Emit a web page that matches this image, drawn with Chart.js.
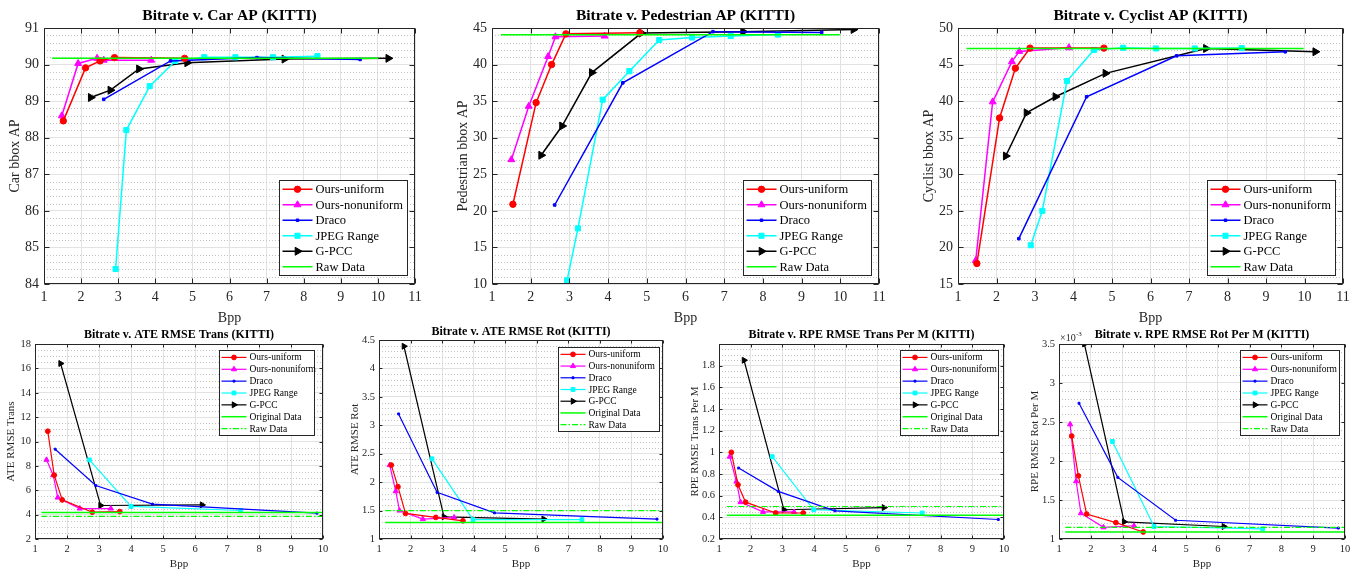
<!DOCTYPE html>
<html>
<head>
<meta charset="utf-8">
<script src="https://cdn.jsdelivr.net/npm/chart.js@4.4.1/dist/chart.umd.min.js"></script>
<style>
body { margin: 0; background: #fff; width: 1357px; height: 569px; overflow: hidden; position: relative; }
canvas { position: absolute; }
</style>
</head>
<body>
<script>
const seriesNames = ['Ours-uniform', 'Ours-nonuniform', 'Draco', 'JPEG Range', 'G-PCC'];

// Car AP
const carUniform = [[1.52, 88.46], [2.12, 89.91], [2.51, 90.10], [2.90, 90.19], [4.79, 90.17]];
const carNonuniform = [[1.48, 88.60], [1.92, 90.03], [2.43, 90.17], [2.61, 90.12], [3.89, 90.12]];
const carDraco = [[2.61, 89.05], [4.41, 90.10], [6.74, 90.19], [9.52, 90.14]];
const carJpeg = [[2.93, 84.41], [3.22, 88.21], [3.85, 89.41], [4.54, 90.10], [5.32, 90.20], [6.16, 90.20], [7.17, 90.20], [8.37, 90.23]];
const carGpcc = [[2.26, 89.10], [2.79, 89.30], [3.56, 89.88], [4.86, 90.05], [7.48, 90.15], [10.28, 90.17]];
const carRaw = [[1.22, 90.17], [10.01, 90.17]];

// Pedestrian AP
const pedUniform = [[1.54, 20.9], [2.14, 34.8], [2.54, 40.0], [2.91, 44.2], [4.82, 44.35]];
const pedNonuniform = [[1.50, 27.0], [1.95, 34.3], [2.45, 41.1], [2.64, 43.8], [3.91, 43.9]];
const pedDraco = [[2.62, 20.8], [4.38, 37.5], [6.71, 44.5], [9.52, 44.4]];
const pedJpeg = [[2.94, 10.5], [3.22, 17.6], [3.86, 35.2], [4.55, 39.1], [5.32, 43.35], [6.17, 43.7], [7.17, 43.9], [8.39, 44.1]];
const pedGpcc = [[2.27, 27.6], [2.81, 31.6], [3.58, 38.9], [4.86, 44.3], [7.49, 44.5], [10.34, 44.8]];
const pedRaw = [[1.23, 44.08], [9.99, 44.08]];

// Cyclist AP
const cycUniform = [[1.49, 17.8], [2.08, 37.7], [2.49, 44.5], [2.87, 47.25], [4.79, 47.25]];
const cycNonuniform = [[1.46, 18.2], [1.90, 39.9], [2.40, 45.4], [2.59, 46.8], [3.88, 47.3]];
const cycDraco = [[2.58, 21.2], [4.34, 40.6], [6.68, 46.2], [9.50, 46.75]];
const cycJpeg = [[2.89, 20.3], [3.19, 25.0], [3.83, 42.75], [4.53, 47.0], [5.29, 47.3], [6.14, 47.2], [7.15, 47.2], [8.37, 47.25]];
const cycGpcc = [[2.24, 32.5], [2.78, 38.4], [3.53, 40.6], [4.83, 43.8], [7.44, 47.2], [10.28, 46.75]];
const cycRaw = [[1.22, 47.2], [9.98, 47.2]];

// ATE RMSE Trans
const ateTUniform = [[1.40, 10.84], [1.60, 7.24], [1.85, 5.21], [2.79, 4.2], [3.65, 4.25]];
const ateTNonuniform = [[1.36, 8.5], [1.57, 7.24], [1.71, 5.4], [2.40, 4.5], [3.37, 4.5]];
const ateTDraco = [[1.63, 9.37], [2.90, 6.39], [4.67, 4.86], [9.81, 4.12]];
const ateTJpeg = [[2.70, 8.49], [4.00, 4.67], [7.43, 4.34]];
const ateTGpcc = [[1.80, 16.4], [3.05, 4.75], [6.22, 4.8]];
const ateTOriginal = [[1.2, 4.17], [10, 4.17]];
const ateTRaw = [[1.2, 3.85], [10, 3.85]];

// ATE RMSE Rot
const ateRUniform = [[1.39, 2.30], [1.60, 1.92], [1.84, 1.45], [2.80, 1.38], [3.66, 1.32]];
const ateRNonuniform = [[1.34, 2.30], [1.53, 1.84], [1.65, 1.50], [2.39, 1.35], [3.38, 1.38]];
const ateRDraco = [[1.62, 3.20], [2.84, 1.82], [4.66, 1.46], [9.81, 1.35]];
const ateRJpeg = [[2.68, 2.41], [3.98, 1.34], [7.43, 1.34]];
const ateRGpcc = [[1.79, 4.39], [3.06, 1.39], [6.22, 1.35]];
const ateROriginal = [[1.2, 1.29], [10, 1.29]];
const ateRRaw = [[1.2, 1.5], [10, 1.5]];

// RPE RMSE Trans Per M
const rpeTUniform = [[1.39, 1.0], [1.60, 0.70], [1.84, 0.54], [2.79, 0.44], [3.66, 0.44]];
const rpeTNonuniform = [[1.34, 0.96], [1.55, 0.73], [1.68, 0.54], [2.39, 0.45], [3.37, 0.45]];
const rpeTDraco = [[1.62, 0.855], [2.87, 0.64], [4.66, 0.46], [9.82, 0.38]];
const rpeTJpeg = [[2.68, 0.96], [3.99, 0.47], [7.42, 0.44]];
const rpeTGpcc = [[1.79, 1.85], [3.05, 0.47], [6.21, 0.49]];
const rpeTOriginal = [[1.25, 0.42], [10, 0.42]];
const rpeTRaw = [[1.25, 0.50], [10, 0.50]];

// RPE RMSE Rot Per M (values x 10^-3)
const rpeRUniform = [[1.40, 2.32], [1.61, 1.81], [1.87, 1.32], [2.79, 1.21], [3.65, 1.09]];
const rpeRNonuniform = [[1.35, 2.47], [1.54, 1.74], [1.69, 1.33], [2.40, 1.15], [3.36, 1.17]];
const rpeRDraco = [[1.63, 2.74], [2.85, 1.79], [4.67, 1.24], [9.79, 1.14]];
const rpeRJpeg = [[2.68, 2.25], [3.99, 1.16], [7.41, 1.13]];
const rpeRGpcc = [[1.80, 3.50], [3.05, 1.22], [6.19, 1.16]];
const rpeROriginal = [[1.2, 1.09], [10, 1.09]];
const rpeRRaw = [[1.2, 1.15], [10, 1.15]];

// axis ranges: [min, max, step, minor]
const bppTop = [1, 11, 1];
const bppBottom = [1, 10, 1];
const carAxis = [84, 91, 1, 0.2];
const pedAxis = [10, 45, 5, 1];
const cycAxis = [15, 50, 5, 1];
const ateTAxis = [2, 18, 2, 0.5];
const ateRAxis = [1, 4.5, 0.5, 0.1];
const rpeTAxis = [0.2, 2, 0.2, 0.05];
const rpeRAxis = [1, 3.5, 0.5, 0.1];

const FONT = "'Liberation Serif', 'Times New Roman', serif";

const styles = [
  { color: '#ff0000', point: 'circle', r: 3.2 },
  { color: '#ff00ff', point: 'triangle', r: 4 },
  { color: '#0000ff', point: 'rect', r: 1.8 },
  { color: '#00ffff', point: 'rect', r: 3.6 },
  { color: '#000000', point: 'triangle', r: 4.6, rot: 90 }
];

function xy(pts) {
  return pts.map(([x, y]) => ({ x: x, y: y }));
}

function seriesSet(list, k) {
  return list.map((pts, i) => {
    const s = styles[i];
    return {
      label: seriesNames[i], data: xy(pts), showLine: true,
      borderColor: s.color, backgroundColor: s.color,
      pointBackgroundColor: s.color, pointBorderColor: s.color, pointBorderWidth: 1,
      pointStyle: s.point, pointRadius: s.r * k, pointRotation: s.rot || 0,
      borderWidth: k < 1 ? 1.2 : 1.5, order: i + 1
    };
  });
}

function refSet(label, pts, dash, width) {
  return {
    label: label, data: xy(pts), showLine: true, borderColor: '#00ff00', backgroundColor: '#00ff00',
    borderWidth: width, borderDash: dash, pointRadius: 0, order: 0
  };
}

function marker(ctx, style, r, rot, x, y) {
  if (Chart.helpers && Chart.helpers.drawPoint) {
    Chart.helpers.drawPoint(ctx, { pointStyle: style, radius: r, rotation: rot, borderWidth: 1 }, x, y);
  } else {
    ctx.beginPath(); ctx.arc(x, y, r, 0, Math.PI * 2); ctx.fill(); ctx.stroke();
  }
}

const deco = {
  id: 'deco',
  beforeDatasetsDraw(chart, args, o) {
    const ctx = chart.ctx, a = chart.chartArea, y = chart.scales.y;
    const n = Math.round((y.max - y.min) / o.minor);
    const per = Math.round(o.major / o.minor);
    ctx.save();
    ctx.strokeStyle = '#c4c4c4';
    ctx.lineWidth = 1;
    ctx.setLineDash([1, 2]);
    for (let i = 1; i < n; i++) {
      if (i % per === 0) continue;
      const py = Math.round(y.getPixelForValue(y.min + i * o.minor)) + 0.5;
      ctx.beginPath(); ctx.moveTo(a.left, py); ctx.lineTo(a.right, py); ctx.stroke();
    }
    ctx.restore();
  },
  afterDraw(chart, args, o) {
    const ctx = chart.ctx, a = chart.chartArea, x = chart.scales.x, y = chart.scales.y;
    ctx.save();
    // frame and inward ticks
    ctx.strokeStyle = '#262626';
    ctx.lineWidth = 1;
    ctx.setLineDash([]);
    const L = Math.round(a.left) + 0.5, R = Math.round(a.right) - 0.5;
    const T = Math.round(a.top) + 0.5, B = Math.round(a.bottom) - 0.5;
    ctx.strokeRect(L, T, R - L, B - T);
    ctx.beginPath();
    x.ticks.forEach(t => {
      const px = Math.round(x.getPixelForValue(t.value)) + 0.5;
      ctx.moveTo(px, B); ctx.lineTo(px, B - o.tick);
      ctx.moveTo(px, T); ctx.lineTo(px, T + o.tick);
    });
    y.ticks.forEach(t => {
      const py = Math.round(y.getPixelForValue(t.value)) + 0.5;
      ctx.moveTo(L, py); ctx.lineTo(L + o.tick, py);
      ctx.moveTo(R, py); ctx.lineTo(R - o.tick, py);
    });
    ctx.stroke();

    // titles
    ctx.fillStyle = '#000';
    ctx.textAlign = 'center';
    ctx.textBaseline = 'middle';
    ctx.font = 'bold ' + o.titleSize + 'px ' + FONT;
    ctx.fillText(o.title, (a.left + a.right) / 2, a.top - o.titleGap);
    ctx.fillStyle = '#262626';
    ctx.font = o.labelSize + 'px ' + FONT;
    ctx.fillText('Bpp', (a.left + a.right) / 2, a.bottom + o.xGap);
    ctx.save();
    ctx.translate(a.left - o.yGap, (a.top + a.bottom) / 2);
    ctx.rotate(-Math.PI / 2);
    ctx.fillText(o.ylabel, 0, 0);
    ctx.restore();
    if (o.expo) {
      ctx.textAlign = 'left';
      ctx.font = '10px ' + FONT;
      ctx.fillText('\u00d710', a.left + 1, a.top - 6);
      ctx.font = '7px ' + FONT;
      ctx.fillText('-3', a.left + 17, a.top - 10);
    }

    // legend
    const lg = o.legend;
    const sets = chart.data.datasets;
    const bx = Math.round(a.right - lg.right - lg.w) + 0.5;
    const by = Math.round(lg.top != null ? a.top + lg.top : a.bottom - lg.bottom - lg.h) + 0.5;
    ctx.fillStyle = '#fff';
    ctx.fillRect(bx, by, lg.w, lg.h);
    ctx.strokeStyle = '#262626';
    ctx.lineWidth = 1;
    ctx.strokeRect(bx, by, lg.w, lg.h);
    const rowH = (lg.h - 2 * lg.inset) / sets.length;
    sets.forEach((d, i) => {
      const cy = by + lg.inset + rowH * (i + 0.5);
      const x0 = bx + lg.pad, x1 = x0 + lg.len;
      ctx.strokeStyle = d.borderColor;
      ctx.lineWidth = d.borderWidth;
      ctx.setLineDash(d.borderDash || []);
      ctx.beginPath(); ctx.moveTo(x0, cy); ctx.lineTo(x1, cy); ctx.stroke();
      ctx.setLineDash([]);
      if (d.pointRadius > 0) {
        ctx.fillStyle = d.pointBackgroundColor;
        ctx.lineWidth = 1;
        marker(ctx, d.pointStyle, d.pointRadius, d.pointRotation, (x0 + x1) / 2, cy);
      }
      ctx.fillStyle = '#000';
      ctx.textAlign = 'left';
      ctx.textBaseline = 'middle';
      ctx.font = lg.size + 'px ' + FONT;
      ctx.fillText(d.label, x1 + 3, cy + 0.5);
    });
    ctx.restore();
  }
};

function fmt(v) {
  return String(+v.toFixed(3));
}

function makeChart(p) {
  const c = document.createElement('canvas');
  const [l, t, w, h] = p.box;
  const [pl, pt, pr, pb] = p.pad;
  c.width = pl + w + pr;
  c.height = pt + h + pb;
  c.style.left = (l - pl) + 'px';
  c.style.top = (t - pt) + 'px';
  document.body.appendChild(c);
  const [xmin, xmax, xstep] = p.xr;
  const [ymin, ymax, ystep, yminor] = p.yr;
  const tickFont = { family: FONT, size: p.tickSize };
  new Chart(c, {
    type: 'scatter',
    data: { datasets: p.datasets },
    options: {
      responsive: false,
      animation: false,
      events: [],
      layout: { padding: { left: 0, top: pt, right: pr, bottom: 0 } },
      plugins: {
        legend: { display: false },
        tooltip: { enabled: false },
        deco: Object.assign({ minor: yminor, major: ystep }, p.deco)
      },
      scales: {
        x: {
          type: 'linear', min: xmin, max: xmax,
          ticks: { stepSize: xstep, font: tickFont, color: '#262626', padding: p.xPad, maxRotation: 0, autoSkip: false, callback: fmt },
          grid: { color: '#e2e2e2', drawTicks: false },
          border: { display: false },
          afterFit(s) { s.height = pb; }
        },
        y: {
          type: 'linear', min: ymin, max: ymax,
          ticks: {
            stepSize: ystep, font: tickFont, color: '#262626', padding: p.yPad, autoSkip: false,
            callback: v => (p.hideMax && Math.abs(v - ymax) < 1e-9) ? '' : fmt(v)
          },
          grid: { color: '#e2e2e2', drawTicks: false },
          border: { display: false },
          afterFit(s) { s.width = pl; }
        }
      }
    },
    plugins: [deco]
  });
}

const topLegend = { right: 8, bottom: 9, w: 128, h: 95, inset: 1, pad: 3, len: 30, size: 12.5 };
function topDeco(title, ylabel) {
  return { title: title, ylabel: ylabel, titleSize: 15.5, labelSize: 14, titleGap: 12, xGap: 34, yGap: 29, tick: 5, legend: topLegend };
}
function botDeco(title, ylabel, lg, gap, expo) {
  return {
    title: title, ylabel: ylabel, titleSize: 12, labelSize: 11, titleGap: gap, xGap: 25, yGap: 24, tick: 3, expo: !!expo,
    legend: Object.assign({ top: 6, h: 85, inset: 1, pad: 2, len: 25, size: 9.5 }, lg)
  };
}
function topSets(list, raw) {
  return seriesSet(list, 1).concat([refSet('Raw Data', raw, [], 1.5)]);
}
function botSets(list, orig, raw) {
  return seriesSet(list, 0.75).concat([refSet('Original Data', orig, [], 1.5), refSet('Raw Data', raw, [6, 2, 1.5, 2], 1.2)]);
}

const topPad = [60, 30, 14, 45];
const botPad = [40, 22, 12, 32];

makeChart({
  box: [44, 28, 371, 256], pad: topPad, xr: bppTop, yr: carAxis, tickSize: 14, xPad: 5, yPad: 5,
  datasets: topSets([carUniform, carNonuniform, carDraco, carJpeg, carGpcc], carRaw),
  deco: topDeco('Bitrate v. Car AP (KITTI)', 'Car bbox AP')
});
makeChart({
  box: [492, 28, 387, 256], pad: topPad, xr: bppTop, yr: pedAxis, tickSize: 14, xPad: 5, yPad: 5,
  datasets: topSets([pedUniform, pedNonuniform, pedDraco, pedJpeg, pedGpcc], pedRaw),
  deco: topDeco('Bitrate v. Pedestrian AP (KITTI)', 'Pedestrian bbox AP')
});
makeChart({
  box: [958, 28, 385, 256], pad: topPad, xr: bppTop, yr: cycAxis, tickSize: 14, xPad: 5, yPad: 5,
  datasets: topSets([cycUniform, cycNonuniform, cycDraco, cycJpeg, cycGpcc], cycRaw),
  deco: topDeco('Bitrate v. Cyclist AP (KITTI)', 'Cyclist bbox AP')
});
makeChart({
  box: [35, 344, 288, 195], pad: botPad, xr: bppBottom, yr: ateTAxis, tickSize: 10.5, xPad: 4, yPad: 4,
  datasets: botSets([ateTUniform, ateTNonuniform, ateTDraco, ateTJpeg, ateTGpcc], ateTOriginal, ateTRaw),
  deco: botDeco('Bitrate v. ATE RMSE Trans (KITTI)', 'ATE RMSE Trans', { right: 9, w: 95 }, 9)
});
makeChart({
  box: [379, 340, 284, 199], pad: botPad, xr: bppBottom, yr: ateRAxis, tickSize: 10.5, xPad: 4, yPad: 4,
  datasets: botSets([ateRUniform, ateRNonuniform, ateRDraco, ateRJpeg, ateRGpcc], ateROriginal, ateRRaw),
  deco: botDeco('Bitrate v. ATE RMSE Rot (KITTI)', 'ATE RMSE Rot', { right: 4, w: 101, h: 84, top: 7 }, 8)
});
makeChart({
  box: [719, 344, 285, 195], pad: botPad, xr: bppBottom, yr: rpeTAxis, tickSize: 10.5, xPad: 4, yPad: 4, hideMax: true,
  datasets: botSets([rpeTUniform, rpeTNonuniform, rpeTDraco, rpeTJpeg, rpeTGpcc], rpeTOriginal, rpeTRaw),
  deco: botDeco('Bitrate v. RPE RMSE Trans Per M (KITTI)', 'RPE RMSE Trans Per M', { right: 6, w: 98 }, 9)
});
makeChart({
  box: [1059, 344, 286, 195], pad: botPad, xr: bppBottom, yr: rpeRAxis, tickSize: 10.5, xPad: 4, yPad: 4,
  datasets: botSets([rpeRUniform, rpeRNonuniform, rpeRDraco, rpeRJpeg, rpeRGpcc], rpeROriginal, rpeRRaw),
  deco: botDeco('Bitrate v. RPE RMSE Rot Per M (KITTI)', 'RPE RMSE Rot Per M', { right: 6, w: 99 }, 9, true)
});
</script>
</body>
</html>
